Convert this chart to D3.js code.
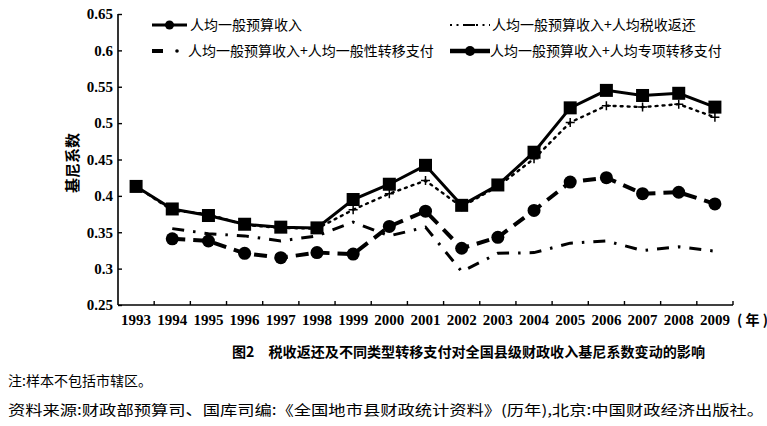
<!DOCTYPE html>
<html>
<head>
<meta charset="utf-8">
<script src="https://cdn.jsdelivr.net/npm/d3@7"></script>
<style>
  body { margin:0; background:#fff; }
  svg { display:block; }
  .num { font-family: "Liberation Serif", "Times New Roman", "DejaVu Serif", serif; font-weight: bold; font-size: 15px; }
  .cjk { font-family: "Noto Sans CJK SC", "Noto Sans", sans-serif; }
</style>
</head>
<body>
<div class="canvas"></div>
<script>
// data
const years = ["1993","1994","1995","1996","1997","1998","1999","2000","2001",
               "2002","2003","2004","2005","2006","2007","2008","2009"];
const budget      = [0.413,0.382,0.373,0.361,0.357,0.356,0.395,0.416,0.442,0.387,0.415,0.460,0.521,0.545,0.538,0.541,0.522];
const taxRebate   = [0.413,0.380,0.375,0.360,0.356,0.355,0.381,0.403,0.421,0.385,0.413,0.451,0.501,0.524,0.522,0.526,0.508];
const generalTr   = [null,0.355,0.348,0.345,0.338,0.345,0.364,0.345,0.357,0.296,0.321,0.322,0.335,0.338,0.325,0.330,0.324];
const specialTr   = [null,0.341,0.338,0.321,0.315,0.322,0.320,0.358,0.379,0.328,0.343,0.380,0.419,0.425,0.403,0.405,0.389];
const yTicks = [0.25,0.3,0.35,0.4,0.45,0.5,0.55,0.6,0.65];
const seriesNames = ["人均一般预算收入","人均一般预算收入+人均税收返还",
                     "人均一般预算收入+人均一般性转移支付","人均一般预算收入+人均专项转移支付"];

let dim = { width:767, height:426 };
let svg = d3.select(".canvas").append("svg").attr("width",dim.width).attr("height",dim.height);

const pl = 118, pr = 733, pt = 14, pb = 305;
const x = d3.scaleBand().domain(years).range([pl,pr]).padding(0);
const y = d3.scaleLinear().domain([0.25,0.65]).range([pb,pt]);
const cx = d => x(d) + x.bandwidth()/2;

// y axis
const yAxis = svg.append("g").attr("transform",`translate(${pl},0)`)
  .call(d3.axisLeft(y).tickValues(yTicks).tickSize(-4).tickPadding(5).tickFormat(d => +d.toFixed(2)));
yAxis.attr("font-family",null).attr("font-size",null);
yAxis.select(".domain").attr("d",`M0,${pt}V${pb}`).attr("stroke","#000").attr("stroke-width",1.6);
yAxis.selectAll(".tick line").attr("stroke","#000").attr("stroke-width",1.4);
yAxis.selectAll("text").attr("class","num").attr("fill","#000");

// x axis: labels at category centres, ticks on category boundaries
const xAxis = svg.append("g").attr("transform",`translate(0,${pb})`)
  .call(d3.axisBottom(x).tickSize(0).tickPadding(9));
xAxis.attr("font-family",null).attr("font-size",null);
xAxis.select(".domain").attr("d",`M${pl},0H${pr}`).attr("stroke","#000").attr("stroke-width",1.6);
xAxis.selectAll("text").attr("class","num").attr("fill","#000");
xAxis.selectAll(".bound").data(years).enter().append("line").attr("class","bound")
  .attr("x1",d => x(d)+x.bandwidth()).attr("x2",d => x(d)+x.bandwidth())
  .attr("y1",0).attr("y2",-4).attr("stroke","#000").attr("stroke-width",1.4);

svg.append("text").attr("class","cjk").attr("x",737).attr("y",pb+20).attr("font-size",14)
  .attr("font-weight","bold").text("( 年 )");

svg.append("text").attr("class","cjk").attr("transform","translate(78,163) rotate(-90)").attr("text-anchor","middle")
  .attr("font-weight","bold").attr("font-size",15).text("基尼系数");

// lines
const line = d3.line().defined(d => d.v != null).x(d => cx(d.year)).y(d => y(d.v));
const pts = arr => years.map((yr,i) => ({year:yr, v:arr[i]}));

const styles = [
  {data:budget,    width:3,   dash:null},
  {data:taxRebate, width:2.4, dash:"2,5"},
  {data:generalTr, width:3,   dash:"12,9,2.5,9"},
  {data:specialTr, width:4,   dash:"13,8"}
];
const graph = svg.append("g");
[3,2,1,0].forEach(k => {
  const s = styles[k];
  graph.append("path").datum(pts(s.data)).attr("d",line).attr("fill","none")
    .attr("stroke","#000").attr("stroke-width",s.width)
    .attr("stroke-dasharray",s.dash).attr("stroke-linecap", k==1 ? "round" : "butt");
});

// markers
graph.selectAll(".circ").data(pts(specialTr).filter(d => d.v != null)).enter().append("circle")
  .attr("cx",d => cx(d.year)).attr("cy",d => y(d.v)).attr("r",6.5).attr("fill","#000");
graph.selectAll(".plus").data(pts(taxRebate)).enter().append("path")
  .attr("d",d => `M${cx(d.year)-4.5},${y(d.v)}h9M${cx(d.year)},${y(d.v)-4.5}v9`)
  .attr("stroke","#000").attr("stroke-width",1.5);
graph.selectAll(".sq").data(pts(budget)).enter().append("rect")
  .attr("x",d => cx(d.year)-6.5).attr("y",d => y(d.v)-6.5).attr("width",13).attr("height",13).attr("fill","#000");

// legend
const leg = svg.append("g");
const legPos = [[152,25],[450,25],[152,51],[450,51]];
const legTextX = [190,492,188,490];
legPos.forEach((p,k) => {
  const g = leg.append("g");
  if (k == 0) {
    g.append("line").attr("x1",p[0]).attr("x2",p[0]+35).attr("y1",p[1]).attr("y2",p[1]).attr("stroke","#000").attr("stroke-width",3);
    g.append("circle").attr("cx",p[0]+17.5).attr("cy",p[1]).attr("r",4.5);
  } else if (k == 1) {
    g.append("line").attr("x1",p[0]).attr("x2",p[0]+40).attr("y1",p[1]).attr("y2",p[1]).attr("stroke","#000")
      .attr("stroke-width",2).attr("stroke-dasharray","2,4.5");
    g.append("line").attr("x1",p[0]+15).attr("x2",p[0]+25).attr("y1",p[1]).attr("y2",p[1]).attr("stroke","#000").attr("stroke-width",2);
  } else if (k == 2) {
    g.append("line").attr("x1",p[0]).attr("x2",p[0]+11).attr("y1",p[1]).attr("y2",p[1]).attr("stroke","#000").attr("stroke-width",4);
    g.append("circle").attr("cx",p[0]+25).attr("cy",p[1]).attr("r",1.8);
  } else {
    g.append("line").attr("x1",p[0]).attr("x2",p[0]+40).attr("y1",p[1]).attr("y2",p[1]).attr("stroke","#000").attr("stroke-width",4.5);
    g.append("circle").attr("cx",p[0]+20).attr("cy",p[1]).attr("r",5);
  }
  g.append("text").attr("class","cjk").attr("x",legTextX[k]).attr("y",p[1]+5).attr("font-size",14)
    .text(seriesNames[k]);
});

// caption and notes
svg.append("text").attr("class","cjk").attr("x",232).attr("y",357).attr("font-weight","bold").attr("font-size",14)
  .attr("textLength",473).attr("lengthAdjust","spacingAndGlyphs")
  .text("图2　税收返还及不同类型转移支付对全国县级财政收入基尼系数变动的影响");
svg.append("text").attr("class","cjk").attr("x",8).attr("y",386).attr("font-size",14)
  .text("注:样本不包括市辖区。");
svg.append("text").attr("class","cjk").attr("x",8).attr("y",415).attr("font-size",14)
  .attr("textLength",756).attr("lengthAdjust","spacingAndGlyphs")
  .text("资料来源:财政部预算司、国库司编:《全国地市县财政统计资料》(历年),北京:中国财政经济出版社。");
</script>
</body>
</html>
